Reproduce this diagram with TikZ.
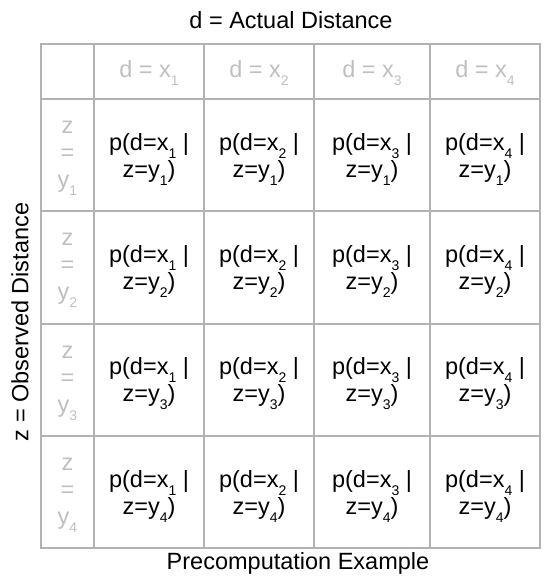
\documentclass[tikz,border=0pt]{standalone}
\usepackage{fontspec}
\setmainfont{Liberation Sans}

\newcommand{\lowsub}[1]{\raisebox{-0.34em}{\fontsize{14}{14}\selectfont #1}}

\begin{document}
\begin{tikzpicture}[x = 1pt, y = -1pt, font = \fontsize{23.5}{27}\selectfont]

	\useasboundingbox (0, 0) rectangle (543, 577);

	\tikzset{
		grid line/.style = {draw = gray!60, line width = 1.6pt},
		head/.style = {text = gray!50, align = center},
		prob/.style = {align = center}
	}

	% Titles
	
		\node (top) at (291, 20) {d = Actual Distance};
		\node (side) [rotate = 90] at (20, 322) {z = Observed Distance};
		\node (bottom) at (298, 563) {Precomputation Example};

	% Grid
	
		\draw [grid line] (41, 44) rectangle (540, 548);
		\foreach \x in {94, 204, 314, 430} \draw [grid line] (\x, 44) -- (\x, 548);
		\foreach \y in {99, 211, 324, 436} \draw [grid line] (41, \y) -- (540, \y);

	% Headers
	
		\foreach \cx [count = \i] in {149, 259, 372, 485}
			\node (col\i) [head] at (\cx, 73) {d = x\lowsub{\i}};
		
		\foreach \cy [count = \j] in {158, 270.5, 383, 495}
			\node (row\j) [head] at (67.5, \cy) {z\\=\\y\lowsub{\j}};

	% Probabilities
	
		\foreach \cx [count = \i] in {149, 259, 372, 485}
			\foreach \cy [count = \j] in {159, 271.5, 384, 496}
				\node (cell\i\j) [prob] at (\cx, \cy) {p(d=x\lowsub{\i} |\\z=y\lowsub{\j})};

\end{tikzpicture}
\end{document}
